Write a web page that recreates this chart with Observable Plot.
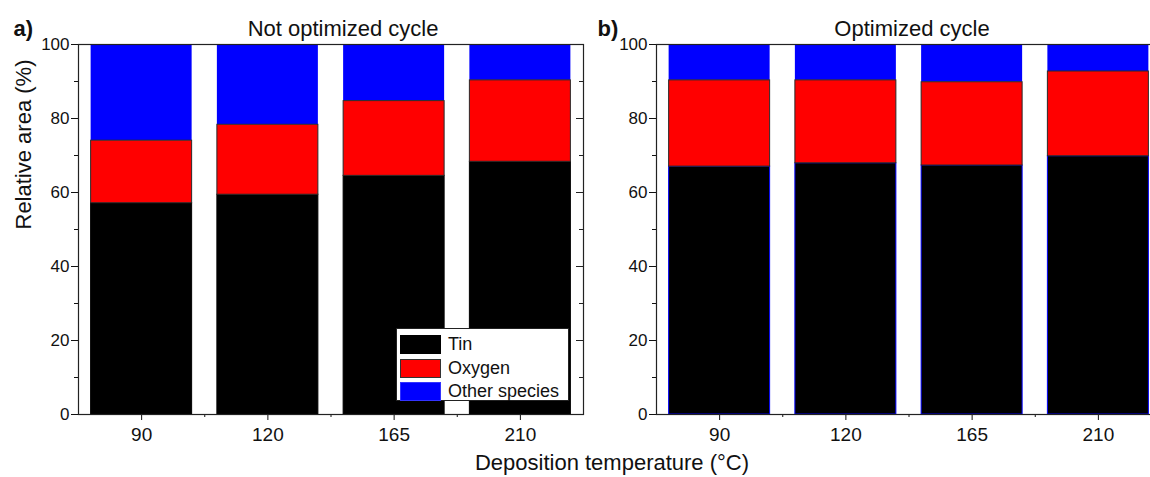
<!DOCTYPE html>
<html>
<head>
<meta charset="utf-8">
<script src="https://cdn.jsdelivr.net/npm/d3@7"></script>
<script src="https://cdn.jsdelivr.net/npm/@observablehq/plot@0.6"></script>
<style>
  html, body { margin: 0; padding: 0; background: #fff; overflow: hidden; }
  #chart { position: relative; width: 1150px; height: 477px; overflow: hidden;
           font-family: Arial, "Liberation Sans", sans-serif; color: #111; background: #fff; }
  .panel { position: absolute; top: 0; width: 600px; height: 477px; }
  .panel svg { overflow: visible; max-width: none; }
  #xlabel { position: absolute; left: 612px; top: 450px; transform: translateX(-50%);
            font-size: 22px; white-space: nowrap; }
  #legend { position: absolute; left: 396px; top: 328px; width: 171px; height: 71px;
            border: 1px solid #222; background: #fff; }
  #legend .row { position: absolute; left: 3px; height: 21px; display: flex; align-items: center; }
  #legend .sw { width: 41px; height: 19px; margin-right: 7px; box-sizing: border-box; }
  #legend .lab { font-size: 18px; line-height: 21px; }
</style>
</head>
<body>
<div id="chart"></div>
<script>
// Relative area (%) of each species by deposition temperature
const temperatures = ["90", "120", "165", "210"];
const species = ["Tin", "Oxygen", "Other species"];
const speciesColors = ["#000000", "#ff0000", "#0000ff"];

const tinNotOptimized    = [57.1, 59.4, 64.5, 68.3];
const oxygenNotOptimized = [16.9, 18.9, 20.2, 22.0];
const otherNotOptimized  = [26.0, 21.7, 15.3, 9.7];

const tinOptimized    = [67.0, 67.9, 67.3, 69.8];
const oxygenOptimized = [23.3, 22.4, 22.5, 22.9];
const otherOptimized  = [9.7, 9.7, 10.2, 7.3];

const yTicks = [0, 20, 40, 60, 80, 100];
const yMinorTicks = [10, 30, 50, 70, 90];

// Build stacked rows (y1..y2) per temperature, Tin at the bottom
function stackRows(tin, oxygen, other) {
  const rows = [];
  temperatures.forEach((t, i) => {
    let base = 0;
    [tin[i], oxygen[i], other[i]].forEach((v, k) => {
      rows.push({temperature: t, pos: i + 1, species: species[k], y1: base, y2: base + v});
      base += v;
    });
  });
  return rows;
}

function panel({rows, title, titleDx, tag, tagDx, tinEdge, yLabel}) {
  const bar = {x1: d => d.pos - 0.4, x2: d => d.pos + 0.4, y1: "y1", y2: "y2", fill: "species"};
  const marks = [
    Plot.rectY(rows.filter(d => d.species === "Other species"), bar),
    Plot.rectY(rows.filter(d => d.species === "Tin"), {...bar, stroke: tinEdge, strokeWidth: 1}),
    Plot.rectY(rows.filter(d => d.species === "Oxygen"), {...bar, stroke: "#2a2a2a", strokeWidth: 1}),
    // left axis: major + minor ticks pointing out
    Plot.axisY({ticks: yTicks, tickSize: 7, tickPadding: 2, fontSize: 17, label: null}),
    Plot.axisY({ticks: yMinorTicks, tickSize: 4, tickFormat: () => "", label: null}),
    // right frame: ticks pointing in
    Plot.ruleY(yTicks, {x1: 4.5, x2: 4.5, insetLeft: -7, stroke: "#222"}),
    Plot.ruleY(yMinorTicks, {x1: 4.5, x2: 4.5, insetLeft: -4, stroke: "#222"}),
    // bottom axis: category ticks + minor ticks between bars
    Plot.axisX({ticks: [1, 2, 3, 4], tickFormat: i => temperatures[i - 1], tickSize: 6, tickPadding: 7, fontSize: 19, label: null}),
    Plot.axisX({ticks: [1.5, 2.5, 3.5], tickSize: 3, tickFormat: () => "", label: null}),
    Plot.frame({stroke: "#222", strokeWidth: 1.2}),
    Plot.text([title], {frameAnchor: "top", lineAnchor: "middle", dx: titleDx, dy: -16, fontSize: 22, fill: "#111"}),
    Plot.text([tag], {frameAnchor: "top-left", lineAnchor: "middle", textAnchor: "start", dx: tagDx, dy: -16, fontSize: 22, fontWeight: "bold", fill: "#111"})
  ];
  if (yLabel) {
    marks.push(Plot.text([yLabel], {frameAnchor: "left", dx: -55, rotate: -90, fontSize: 22, fill: "#111"}));
  }
  return Plot.plot({
    width: 600,
    height: 477,
    marginTop: 44,
    marginBottom: 63,
    marginLeft: 78,
    marginRight: 17,
    style: {fontFamily: 'Arial, "Liberation Sans", sans-serif', color: "#111", background: "transparent", maxWidth: "none"},
    x: {domain: [0.5, 4.5], axis: null},
    y: {domain: [0, 100], axis: null},
    color: {domain: species, range: speciesColors},
    marks
  });
}

const chart = document.getElementById("chart");

const left = document.createElement("div");
left.className = "panel";
left.style.left = "0px";
left.appendChild(panel({
  rows: stackRows(tinNotOptimized, oxygenNotOptimized, otherNotOptimized),
  title: "Not optimized cycle", titleDx: 12, tag: "a)", tagDx: -65,
  tinEdge: "#000000", yLabel: "Relative area (%)"
}));
chart.appendChild(left);

const right = document.createElement("div");
right.className = "panel";
right.style.left = "578px";
right.appendChild(panel({
  rows: stackRows(tinOptimized, oxygenOptimized, otherOptimized),
  title: "Optimized cycle", titleDx: 3, tag: "b)", tagDx: -59,
  tinEdge: "#0000ff", yLabel: null
}));
chart.appendChild(right);

// Shared x-axis title
const xl = document.createElement("div");
xl.id = "xlabel";
xl.textContent = "Deposition temperature (°C)";
chart.appendChild(xl);

// Legend inside panel a
const legend = document.createElement("div");
legend.id = "legend";
const rowTops = [5, 29, 52];
const swatchBorders = ["#000", "#333", "#3333ff"];
species.forEach((s, k) => {
  const row = document.createElement("div");
  row.className = "row";
  row.style.top = rowTops[k] + "px";
  const sw = document.createElement("div");
  sw.className = "sw";
  sw.style.background = speciesColors[k];
  sw.style.border = "1px solid " + swatchBorders[k];
  const lab = document.createElement("span");
  lab.className = "lab";
  lab.textContent = s;
  row.appendChild(sw);
  row.appendChild(lab);
  legend.appendChild(row);
});
chart.appendChild(legend);
</script>
</body>
</html>
